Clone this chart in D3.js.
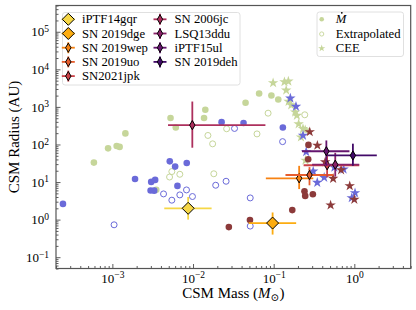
<!DOCTYPE html>
<meta charset="utf-8">
<style>
body { margin: 0; background: #fff; }
text { font-family: "Liberation Serif", "DejaVu Serif", serif; fill: #000; }
</style>
<svg width="416" height="310"></svg>
<script src="https://d3js.org/d3.v7.min.js"></script>
<script>

// ---- data (CSM mass in Msun, CSM radius in AU) ----
// green sample
var greenDot = [[5.9e-4,32.9],[8.85e-4,78.9],[1.13e-3,90.8],[1.23e-3,86.3],[1.45e-3,197],[3.5e-3,6.2],
    [5.26e-3,508],[6.11e-3,284],[0.0137,508],[0.0142,837],[0.0448,1285],[0.066,2265],[0.0937,2004],[0.114,1572]];
var greenOpen = [[5.46e-3,19.0],[5.12e-3,13.6],[6.86e-3,16.1],[0.0153,174],[0.0175,104],[0.0181,16.6],
    [0.0261,262],[0.0621,191],[0.0853,681],[0.243,617]];
var greenStar = [[0.0984,4355],[0.136,4630],[0.152,4805],[0.143,2775],[0.153,1390],[0.165,1122],[0.185,723],
    [0.194,591],[0.204,351],[0.231,262],[0.246,244],[0.218,157],[0.248,37.8]];
// blue sample
var blueDot = [[2.44e-4,2.62],[1.91e-3,12.1],[3.03e-3,10.1],[3.39e-3,11.4],[2.98e-3,5.96],[3.3e-3,5.9],
    [5.15e-3,35.6],[6.0e-3,25.8],[8.36e-3,32.1],[6.41e-3,7.9],[0.0226,393],[0.0423,374],[0.13,284]];
var blueOpen = [[1.05e-3,0.728],[4.31e-3,4.83],[5.46e-3,3.29],[6.86e-3,4.55],[8.3e-3,6.17],[9.84e-3,4.12],
    [0.0191,8.22],[0.0257,10.5],[0.0327,267],[0.0512,3.78],[0.0512,0.673],[0.129,119]];
var blueStar = [[0.161,1702],[0.189,1026],[0.231,174],[0.253,63.7],[0.309,19.3],[0.347,9.7],[0.423,13.2],
    [0.566,24.7],[0.736,21.9],[1.02,5.14],[0.929,3.78]];
// dark red sample
var redDot = [[0.0278,0.632],[0.0508,0.97],[0.17,1.79],[0.241,5.7],[0.246,4.28],[0.306,4.74],[0.268,40.3],[0.27,97.5]];
var redStar = [[0.28,216],[0.348,94.6],[0.435,34.1],[0.546,12.4],[0.685,20.9],[0.877,7.9],[0.508,2.43],[1.0,3.43]];

// individual SNe with error bars
var snNames  = ["iPTF14gqr","SN 2019dge","SN 2019wep","SN 2019uo","SN2021jpk","SN 2006jc","LSQ13ddu","iPTF15ul","SN 2019deh"];
var snMass   = [0.0087, 0.097, 0.207, 0.278, 0.46, 0.0098, 0.58, 0.45, 0.96];
var snMassLo = [0.0044, 0.049, 0.080, 0.14, 0.235, 0.0049, 0.30, 0.224, 0.46];
var snMassHi = [0.017, 0.19, 0.31, 0.55, 1.15, 0.079, 1.15, 0.87, 1.9];
var snRad    = [2.0, 0.81, 12.6, 15.4, 28, 327, 29, 66, 51];
var snRadLo  = [1.0, 0.40, 6.5, 8.2, 13.4, 82, 14, 27, 27];
var snRadHi  = [4.0, 1.55, 27, 25, 62, 1390, 60, 128, 105];

var xMajor = [1e-3, 1e-2, 1e-1, 1];
var yMajor = [1e-1, 1, 10, 100, 1e3, 1e4, 1e5];

// ---- setup ----
var svg = d3.select("svg");
var x = d3.scaleLog().domain([2e-4, 5]).range([56, 410.7]);
var y = d3.scaleLog().domain([0.05, 5e5]).range([268.5, 5.5]);

var cGreen = "#c6d69a", cBlue = "#6a6ad9", cRed = "#8c3a3a";
var bigMarker = new Set(["iPTF14gqr", "SN 2019dge"]);
var snColor = snNames.map(function(d, i) { return d3.interpolateInferno(0.9 - i * 0.7 / 8); });

// ---- axes ----
function supLabels(sel) {
    sel.selectAll(".tick text").each(function(d) {
        var e = Math.round(Math.log10(d));
        var t = d3.select(this).text("10");
        t.append("tspan").attr("dy", "-0.45em").style("font-size", "9.5px")
            .text(e < 0 ? "\u2212" + (-e) : e);
    });
}
var minorX = x.ticks().filter(function(d) { return Math.abs(Math.log10(d) % 1) > 1e-6; });
var minorY = y.ticks().filter(function(d) { return Math.abs(Math.log10(d) % 1) > 1e-6; });

var gx = svg.append("g").attr("transform", "translate(0," + y.range()[0] + ")")
    .call(d3.axisBottom(x).tickValues(xMajor).tickSizeInner(-4.5).tickSizeOuter(0).tickPadding(5));
gx.call(supLabels);
svg.append("g").attr("transform", "translate(0," + y.range()[0] + ")")
    .call(d3.axisBottom(x).tickValues(minorX).tickFormat("").tickSizeInner(-2.5).tickSizeOuter(0));

var gy = svg.append("g").attr("transform", "translate(" + x.range()[0] + ",0)")
    .call(d3.axisLeft(y).tickValues(yMajor).tickSizeInner(-4.5).tickSizeOuter(0).tickPadding(7));
gy.call(supLabels);
svg.append("g").attr("transform", "translate(" + x.range()[0] + ",0)")
    .call(d3.axisLeft(y).tickValues(minorY).tickFormat("").tickSizeInner(-2.5).tickSizeOuter(0));

svg.selectAll(".domain").remove();
svg.selectAll(".tick line").attr("stroke", "#333").attr("stroke-width", 0.8);
svg.selectAll(".tick text").style("font-size", "13px").style("font-family", "Liberation Serif");

// ---- scatter ----
var gp = svg.append("g");
function dots(arr, col, open) {
    gp.selectAll(null).data(arr).enter().append("circle")
        .attr("cx", function(d) { return x(d[0]); })
        .attr("cy", function(d) { return y(d[1]); })
        .attr("r", open ? 3 : 3.3)
        .attr("fill", open ? "none" : col)
        .attr("stroke", col)
        .attr("stroke-width", open ? 1 : 0);
}
var star = d3.symbol().type(d3.symbolStar).size(34);
function stars(arr, col) {
    gp.selectAll(null).data(arr).enter().append("path")
        .attr("d", star)
        .attr("transform", function(d) { return "translate(" + x(d[0]) + "," + y(d[1]) + ")"; })
        .attr("fill", col);
}
dots(greenDot, cGreen, false);
dots(greenOpen, cGreen, true);
stars(greenStar, cGreen);
dots(blueDot, cBlue, false);
dots(blueOpen, cBlue, true);
stars(blueStar, cBlue);
dots(redDot, cRed, false);
stars(redStar, cRed);

// ---- SNe error bars ----
function diamond(big) {
    return big ? "M0,-6L6,0L0,6L-6,0Z" : "M0,-4.6L2.7,0L0,4.6L-2.7,0Z";
}
var gs = svg.append("g");
snNames.forEach(function(name, i) {
    var g = gs.append("g");
    g.append("line")
        .attr("x1", x(snMassLo[i])).attr("x2", x(snMassHi[i]))
        .attr("y1", y(snRad[i])).attr("y2", y(snRad[i]))
        .attr("stroke", snColor[i]).attr("stroke-width", 1.8);
    g.append("line")
        .attr("x1", x(snMass[i])).attr("x2", x(snMass[i]))
        .attr("y1", y(snRadLo[i])).attr("y2", y(snRadHi[i]))
        .attr("stroke", snColor[i]).attr("stroke-width", 1.8);
    g.append("path")
        .attr("d", diamond(bigMarker.has(name)))
        .attr("transform", "translate(" + x(snMass[i]) + "," + y(snRad[i]) + ")")
        .attr("fill", snColor[i]).attr("stroke", "#000").attr("stroke-width", 1);
});

// ---- frame ----
svg.append("rect")
    .attr("x", x.range()[0]).attr("y", y.range()[1])
    .attr("width", x.range()[1] - x.range()[0])
    .attr("height", y.range()[0] - y.range()[1])
    .attr("fill", "none").attr("stroke", "#555").attr("stroke-width", 1.2);

// ---- legend 1 (SNe) ----
var leg = svg.append("g");
leg.append("rect").attr("x", 62.5).attr("y", 12.5).attr("width", 177.5).attr("height", 72.5)
    .attr("rx", 2.5).attr("fill", "#fff").attr("fill-opacity", 0.8)
    .attr("stroke", "#d8d8d8").attr("stroke-width", 0.8);
snNames.forEach(function(name, i) {
    var col = i < 5 ? 0 : 1, row = i < 5 ? i : i - 5;
    var cx = col ? 160 : 68.3, cy = 19.3 + row * 14.2;
    var g = leg.append("g").attr("transform", "translate(" + cx + "," + cy + ")");
    g.append("line").attr("x1", -6.5).attr("x2", 6.5).attr("stroke", snColor[i]).attr("stroke-width", 1.8);
    g.append("line").attr("y1", -5.5).attr("y2", 5.5).attr("stroke", snColor[i]).attr("stroke-width", 1.8);
    g.append("path").attr("d", diamond(bigMarker.has(name)))
        .attr("fill", snColor[i]).attr("stroke", "#000").attr("stroke-width", 1);
    leg.append("text").attr("x", col ? 174.5 : 82).attr("y", cy).attr("dy", "0.33em")
        .style("font-size", "12.7px").text(name);
});

// ---- legend 2 (marker types) ----
var leg2 = svg.append("g");
leg2.append("rect").attr("x", 317).attr("y", 12).attr("width", 86.5).attr("height", 44.5)
    .attr("rx", 2.5).attr("fill", "#fff").attr("fill-opacity", 0.8)
    .attr("stroke", "#d8d8d8").attr("stroke-width", 0.8);
leg2.append("circle").attr("cx", 321.7).attr("cy", 19.3).attr("r", 2.3).attr("fill", cGreen);
leg2.append("circle").attr("cx", 321.7).attr("cy", 34).attr("r", 2.1).attr("fill", "none")
    .attr("stroke", cGreen).attr("stroke-width", 0.9);
leg2.append("path").attr("d", d3.symbol().type(d3.symbolStar).size(16))
    .attr("transform", "translate(321.7,48.3)").attr("fill", cGreen);
// M-dot: italic M with a dot placed above it
leg2.append("text").attr("x", 335.7).attr("y", 19.3).attr("dy", "0.33em")
    .style("font-size", "12.7px").style("font-style", "italic").text("M");
leg2.append("circle").attr("cx", 341.8).attr("cy", 12.8).attr("r", 0.9).attr("fill", "#000");
leg2.append("text").attr("x", 335.7).attr("y", 34).attr("dy", "0.33em")
    .style("font-size", "12.7px").text("Extrapolated");
leg2.append("text").attr("x", 335.7).attr("y", 48.3).attr("dy", "0.33em")
    .style("font-size", "12.7px").text("CEE");

// ---- axis titles ----
var xt = svg.append("text").attr("x", (x.range()[0] + x.range()[1]) / 2).attr("y", 298)
    .attr("text-anchor", "middle").style("font-size", "15px");
xt.append("tspan").text("CSM Mass (");
xt.append("tspan").style("font-style", "italic").text("M");
xt.append("tspan").attr("dy", "0.25em").style("font-size", "10.5px").text("\u2299");
xt.append("tspan").attr("dy", "-0.18em").text(")");

svg.append("text")
    .attr("transform", "translate(18.5," + (y.range()[0] + y.range()[1]) / 2 + ") rotate(-90)")
    .attr("text-anchor", "middle").style("font-size", "15px")
    .text("CSM Radius (AU)");

</script>
